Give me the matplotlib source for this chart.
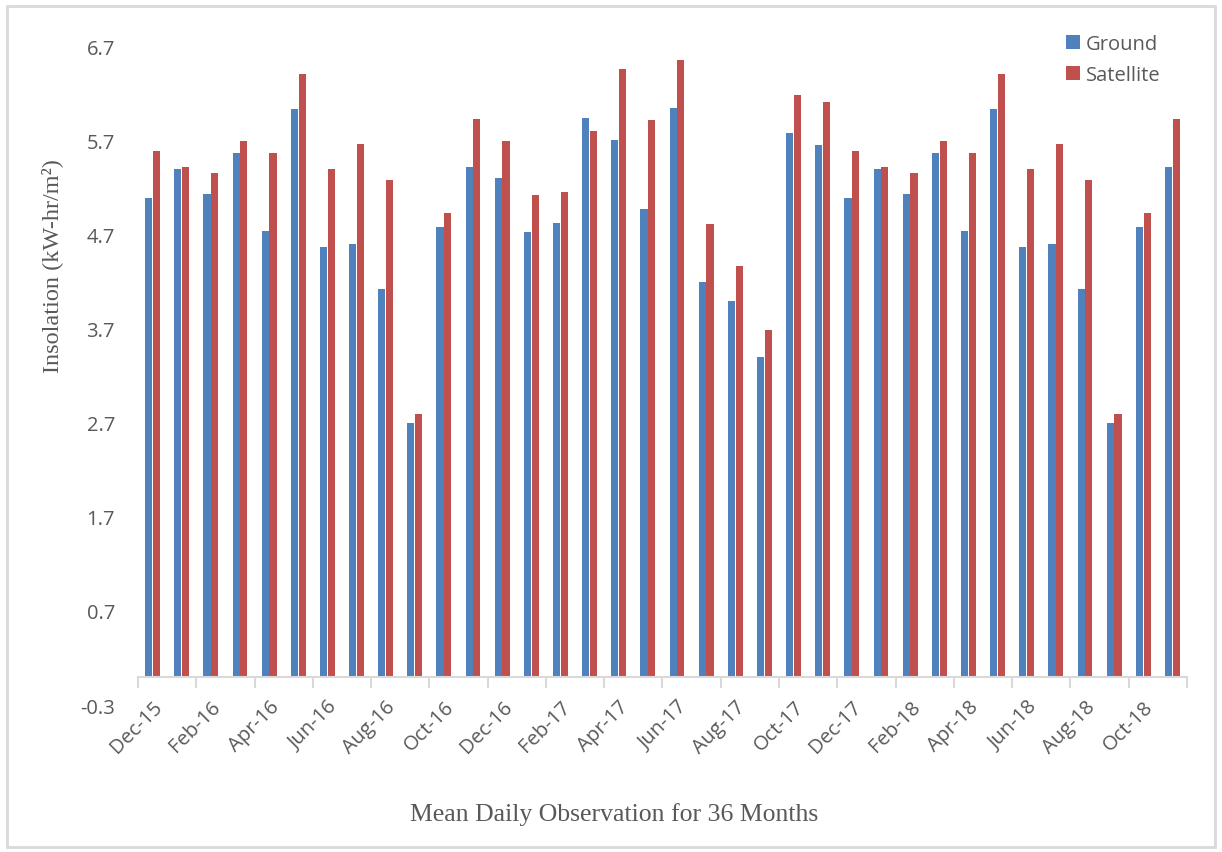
import matplotlib
matplotlib.use("Agg")
from matplotlib import pyplot as plt
from matplotlib.patches import Rectangle
import numpy as np

# monthly labels, Dec-15 .. Nov-18
months = ["Dec-15", "Jan-16", "Feb-16", "Mar-16", "Apr-16", "May-16", "Jun-16", "Jul-16",
          "Aug-16", "Sep-16", "Oct-16", "Nov-16", "Dec-16", "Jan-17", "Feb-17", "Mar-17",
          "Apr-17", "May-17", "Jun-17", "Jul-17", "Aug-17", "Sep-17", "Oct-17", "Nov-17",
          "Dec-17", "Jan-18", "Feb-18", "Mar-18", "Apr-18", "May-18", "Jun-18", "Jul-18",
          "Aug-18", "Sep-18", "Oct-18", "Nov-18"]

ground = [5.09, 5.39, 5.13, 5.56, 4.74, 6.03, 4.56, 4.60, 4.12, 2.70, 4.78, 5.42,
          5.30, 4.72, 4.82, 5.94, 5.70, 4.97, 6.04, 4.19, 3.99, 3.40, 5.78, 5.65,
          5.09, 5.39, 5.13, 5.56, 4.74, 6.03, 4.56, 4.60, 4.12, 2.70, 4.78, 5.42]

satellite = [5.58, 5.41, 5.35, 5.69, 5.56, 6.40, 5.39, 5.66, 5.28, 2.79, 4.93, 5.92,
             5.69, 5.12, 5.15, 5.80, 6.46, 5.91, 6.55, 4.81, 4.36, 3.68, 6.18, 6.10,
             5.58, 5.41, 5.35, 5.69, 5.56, 6.40, 5.39, 5.66, 5.28, 2.79, 4.93, 5.92]

yticks = [-0.3, 0.7, 1.7, 2.7, 3.7, 4.7, 5.7, 6.7]

blue = "#4F81BD"
red = "#C0504D"
grey_text = "#595959"
grey_line = "#D9D9D9"

fig = plt.figure(figsize=(12.22, 8.53), dpi=100)
fig.patches.append(Rectangle((0.006, 0.006), 0.988, 0.986, transform=fig.transFigure,
                             fill=False, edgecolor=grey_line, linewidth=2))

ax = fig.add_axes([0.1129, 0.1723, 0.8584, 0.7726])

x = np.arange(len(months))
w = 0.245
ax.bar(x - w / 2 - 0.01, ground, width=w, color=blue, label="Ground")
ax.bar(x + w / 2 + 0.01, satellite, width=w, color=red, label="Satellite")

ax.set_xlim(-0.5, len(months) - 0.5)
ax.set_ylim(-0.3, 6.7)

# axis line sits at zero like the excel original
for s in ["top", "right", "left"]:
    ax.spines[s].set_visible(False)
ax.spines["bottom"].set_position(("data", 0))
ax.spines["bottom"].set_color(grey_line)
ax.spines["bottom"].set_linewidth(1.5)

ax.set_yticks(yticks)
ax.set_yticklabels(["%.1f" % v for v in yticks])
ax.tick_params(axis="y", length=0, pad=16.5, labelsize=14.5, labelcolor=grey_text)
for lab in ax.get_yticklabels():
    lab.set_fontfamily("Open Sans")

ax.set_xticks(x[::2])
ax.set_xticklabels(months[::2], rotation=45, ha="right", va="top",
                   rotation_mode="anchor", fontsize=14.5, color=grey_text,
                   family="Open Sans")
ax.tick_params(axis="x", which="major", length=0, pad=14)
ax.set_xticks(np.arange(-0.5, len(months), 2), minor=True)
ax.tick_params(axis="x", which="minor", length=8, width=1.5, color=grey_line,
               direction="out")

fig.text(0.0426, 0.688, "Insolation (kW-hr/m²)", rotation=90, ha="center", va="center",
         fontsize=17.5, family="Liberation Serif", color=grey_text)
fig.text(0.5025, 0.045, "Mean Daily Observation for 36 Months", ha="center", va="center",
         fontsize=18.5, family="Liberation Serif", color=grey_text)

leg = fig.legend(*ax.get_legend_handles_labels(), loc="upper left",
                 bbox_to_anchor=(0.872, 0.959), frameon=False, borderpad=0,
                 borderaxespad=0, prop={"family": "Open Sans", "size": 14.5},
                 handlelength=0.7, handleheight=0.7, handletextpad=0.3,
                 labelspacing=0.55)
for t in leg.get_texts():
    t.set_color(grey_text)

fig.savefig("out.png", dpi=100)
